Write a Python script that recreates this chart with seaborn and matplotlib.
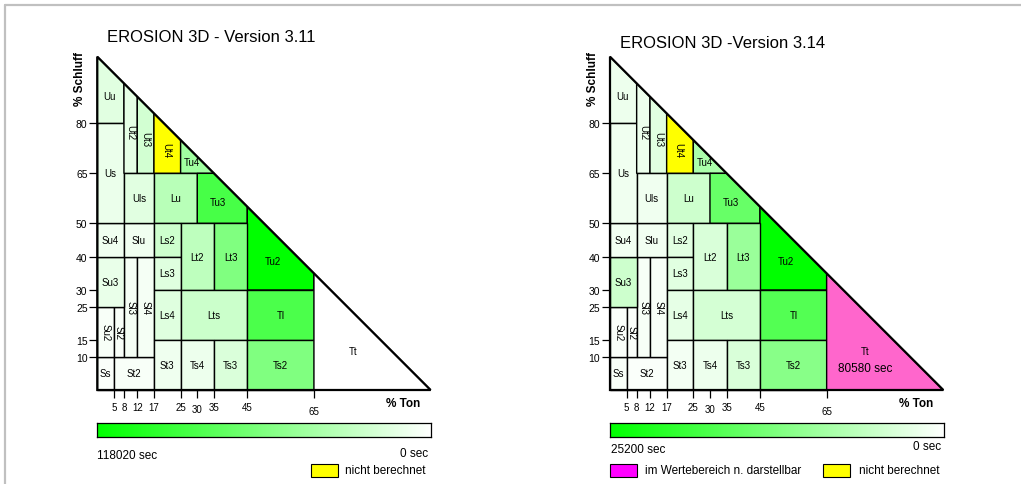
import numpy as np
import matplotlib
matplotlib.use("Agg")
import matplotlib.pyplot as plt
from matplotlib.patches import Polygon, Rectangle
from matplotlib.lines import Line2D
import seaborn as sns

# soil texture classes (KA5) as boxes in % Ton (clay) and % Schluff (silt)
classes = ["Ss", "St2", "Su2", "Sl2", "Sl3", "Sl4", "Su3", "Su4", "Slu", "Us", "Uu", "Uls",
           "Ut2", "Ut3", "Ut4", "Tu4", "Lu", "Tu3", "Tu2", "Ls2", "Ls3", "Ls4", "Lt2", "Lt3",
           "Lts", "Tl", "St3", "Ts4", "Ts3", "Ts2", "Tt"]
clay_lo = [0, 5, 0, 5, 8, 12, 0, 0, 8, 0, 0, 8, 8, 12, 17, 25, 17, 30, 45, 17, 17, 17, 25, 35, 25, 45, 17, 25, 35, 45, 65]
clay_hi = [5, 17, 5, 8, 12, 17, 8, 8, 17, 8, 8, 17, 12, 17, 25, 35, 30, 45, 65, 25, 25, 25, 35, 45, 45, 65, 25, 35, 45, 65, 100]
silt_lo = [0, 0, 10, 10, 10, 10, 25, 40, 40, 50, 80, 50, 65, 65, 65, 65, 50, 50, 30, 40, 30, 15, 30, 30, 15, 15, 0, 0, 0, 0, 0]
silt_hi = [10, 10, 25, 25, 40, 40, 40, 50, 50, 80, 100, 65, 100, 100, 100, 100, 65, 65, 100, 50, 40, 30, 50, 50, 30, 30, 15, 15, 15, 15, 100]
vertical_labels = ["Su2", "Sl2", "Sl3", "Sl4", "Ut2", "Ut3", "Ut4"]

nan = np.nan
# erosion time in sec per class (nan = nicht berechnet)
v311 = [2400, 3500, 3500, 3500, 5000, 5000, 10500, 7000, 7000, 9500, 14000, 14000,
        12000, 21000, nan, 43500, 33000, 85000, 118020, 23500, 15000, 15000, 30000, 59000,
        24000, 83000, 7500, 8500, 17500, 59000, 0]
v314 = [700, 500, 500, 500, 800, 800, 5000, 1300, 1300, 1500, 1800, 1500,
        1800, 3000, nan, 8300, 5000, 15000, 25200, 3000, 3000, 2500, 3800, 10000,
        4300, 17000, 1200, 1800, 3800, 11800, 80580]
vmax311 = 118020
vmax314 = 25200

clay_ticks = [5, 8, 12, 17, 25, 30, 35, 45, 65]
silt_ticks = [10, 15, 25, 30, 40, 50, 65, 80]

W, H = 1021, 485

sns.set_theme(style="ticks")
plt.rcParams["font.family"] = ["Liberation Sans", "DejaVu Sans"]
plt.rcParams["text.color"] = "black"
plt.rcParams["axes.labelcolor"] = "black"
plt.rcParams["xtick.color"] = "black"
plt.rcParams["ytick.color"] = "black"
green = sns.blend_palette(["#ffffff", "#00ff00"], as_cmap=True)


def px(x0, y0, x1, y1):
    return [x0 / W, 1 - y1 / H, (x1 - x0) / W, (y1 - y0) / H]


def clip(pts):
    # cut a box with the triangle edge clay + silt <= 100
    out = []
    for i in range(len(pts)):
        p, q = pts[i], pts[(i + 1) % len(pts)]
        sp, sq = p[0] + p[1], q[0] + q[1]
        if sp <= 100:
            out.append(p)
        if (sp <= 100) != (sq <= 100):
            t = (100 - sp) / (sq - sp)
            out.append((p[0] + t * (q[0] - p[0]), p[1] + t * (q[1] - p[1])))
    return out


def centroid(pts):
    x = np.array([p[0] for p in pts])
    y = np.array([p[1] for p in pts])
    x1, y1 = np.roll(x, -1), np.roll(y, -1)
    c = x * y1 - x1 * y
    a = c.sum() / 2
    return ((x + x1) * c).sum() / (6 * a), ((y + y1) * c).sum() / (6 * a)


def draw_triangle(ax, values, vmax):
    for i, name in enumerate(classes):
        box = [(clay_lo[i], silt_lo[i]), (clay_hi[i], silt_lo[i]),
               (clay_hi[i], silt_hi[i]), (clay_lo[i], silt_hi[i])]
        pts = clip(box)
        v = values[i]
        if np.isnan(v):
            fc = "#ffff00"
        elif v > vmax:
            fc = "#ff66cc"
        else:
            fc = green(v / vmax)
        ax.add_patch(Polygon(pts, closed=True, facecolor=fc, edgecolor="black",
                             lw=1.0, clip_on=False))
        cx, cy = centroid(pts)
        rot = -90 if name in vertical_labels else 0
        if not np.isnan(v) and v > vmax:
            ax.text(cx, cy, name, ha="center", va="center", fontsize=7)
            ax.text(cx, cy - 5, f"{v} sec", ha="center", va="center", fontsize=8.5)
        else:
            ax.text(cx, cy, name, ha="center", va="center", fontsize=7, rotation=rot)
    ax.add_patch(Polygon([(0, 0), (100, 0), (0, 100)], closed=True, fill=False,
                         edgecolor="black", lw=1.6, clip_on=False))
    ax.set_xlim(0, 100)
    ax.set_ylim(0, 100)
    for s in ax.spines.values():
        s.set_visible(False)
    ax.set_facecolor("none")
    ax.set_xticks(clay_ticks)
    ax.set_yticks(silt_ticks)
    ax.tick_params(axis="x", bottom=True, direction="out", length=5.8, width=0.9,
                   labelsize=7, pad=2.5, color="black")
    ax.tick_params(axis="y", left=True, direction="out", length=5.5, width=0.9,
                   labelsize=7.5, pad=1.5, color="black")


fig = plt.figure(figsize=(W / 100, H / 100), dpi=100)
fig.patch.set_facecolor("white")

# overlay in pixel units for titles, legends and the frame
ov = fig.add_axes([0, 0, 1, 1])
ov.set_xlim(0, W)
ov.set_ylim(H, 0)
ov.axis("off")
ov.add_line(Line2D([5, W], [6, 6], color="#c0c0c0", lw=1.6))
ov.add_line(Line2D([5, 5], [6, H], color="#c0c0c0", lw=1.6))

panels = [
    ("EROSION 3D - Version 3.11", v311, vmax311, 97.3, 42),
    ("EROSION 3D -Version 3.14", v314, vmax314, 610, 48),
]

for title, values, vmax, x0, ty in panels:
    ax = fig.add_axes(px(x0, 57.7, x0 + 333.3, 391))
    draw_triangle(ax, values, vmax)
    ax.set_ylabel("% Schluff", fontsize=8.5, fontweight="bold", ha="center", va="center")
    ax.yaxis.set_label_coords(-0.052, 0.935)
    ax.set_xlabel("% Ton", fontsize=8.5, fontweight="bold", ha="center", va="center")
    ax.xaxis.set_label_coords(0.918, -0.038)
    for lbl in ax.get_xticklabels():
        if lbl.get_text() in ("30", "65"):
            lbl.set_y(-0.006 if lbl.get_text() == "30" else -0.014)

    ov.text(x0 + 10, ty, title, fontsize=12, ha="left", va="baseline")

    # colour scale
    cax = fig.add_axes(px(x0, 424, x0 + 334, 438))
    cax.imshow(np.linspace(1, 0, 256)[None, :], cmap=green, vmin=0, vmax=1, aspect="auto")
    cax.set_xticks([])
    cax.set_yticks([])
    for s in cax.spines.values():
        s.set_color("black")
        s.set_linewidth(0.9)

# colour scale annotations and legends
ov.text(97, 456, "118020 sec", fontsize=8.5, ha="left", va="center")
ov.text(428, 454, "0 sec", fontsize=8.5, ha="right", va="center")
ov.add_patch(Rectangle((311, 465), 27, 13, facecolor="#ffff00", edgecolor="black", lw=0.8))
ov.text(345, 471, "nicht berechnet", fontsize=8.5, ha="left", va="center")

ov.text(611, 450, "25200 sec", fontsize=8.5, ha="left", va="center")
ov.text(941, 447, "0 sec", fontsize=8.5, ha="right", va="center")
ov.add_patch(Rectangle((610, 465), 27, 13, facecolor="#ff00ff", edgecolor="black", lw=0.8))
ov.text(645, 471, "im Wertebereich n. darstellbar", fontsize=8.5, ha="left", va="center")
ov.add_patch(Rectangle((823, 465), 27, 13, facecolor="#ffff00", edgecolor="black", lw=0.8))
ov.text(859, 471, "nicht berechnet", fontsize=8.5, ha="left", va="center")

fig.savefig("out.png", dpi=100, facecolor="white")
